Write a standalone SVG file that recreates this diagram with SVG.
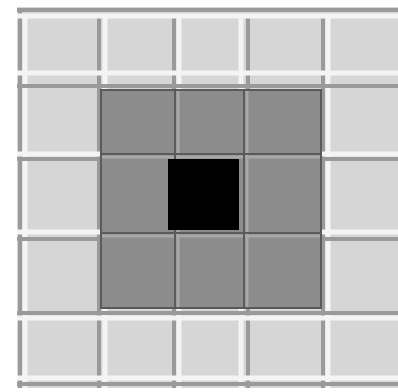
<svg xmlns="http://www.w3.org/2000/svg" width="398" height="392" viewBox="0 0 398 392">
<style>
.g{stroke:#9a9a9a;stroke-width:4;fill:none}
.w{stroke:#f4f4f4;stroke-width:5;fill:none}
.d{stroke:#5a5a5a;stroke-width:2;fill:none}
.dl{stroke:#a8a8a8;stroke-width:3;fill:none}
</style>
<rect width="398" height="392" fill="#ffffff"/>
<rect x="17" y="7" width="381" height="381" fill="#d6d6d6"/>
<g id="grid-light">
<path class="w" d="M25 17V388M105 17V388M179 17V388M241 17V388M328 17V388"/>
<path class="g" d="M20 10V388M99 17V388M174 17V388M248 17V388M323 17V388"/>
<path class="w" d="M17 16H398M17 73H398M17 154H398M17 232H398M17 318H398M17 378H398"/>
<path class="g" d="M17 10H398M17 86H398M17 159H398M17 239H398M17 313H398M17 384H398"/>
</g>
<g id="dark">
<rect x="100" y="89" width="222" height="220" fill="#8c8c8c"/>
<path class="dl" d="M178 89V309M247 89V309M100 157H322M100 236H322"/>
<path class="d" d="M101 89V309M321 89V309M100 90H322M100 308H322M175 89V309M244 89V309M100 154H322M100 233H322"/>
</g>
<rect id="center" x="168" y="159" width="71" height="71" fill="#000000"/>
</svg>
